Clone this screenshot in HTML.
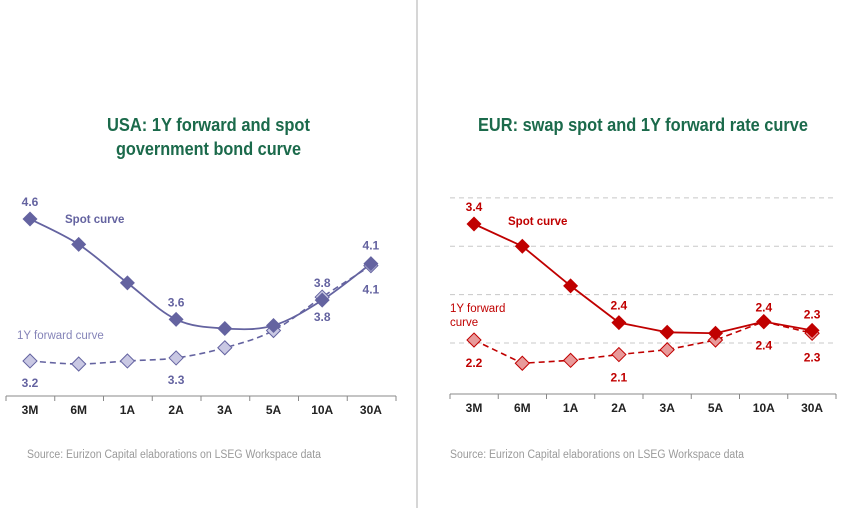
<!DOCTYPE html>
<html><head><meta charset="utf-8"><style>
body{margin:0;background:#fff;}
svg{display:block;font-family:"Liberation Sans",sans-serif;}
</style></head><body>
<svg id="s" width="851" height="508">
<line x1="417" y1="0" x2="417" y2="508" stroke="#c8c8c8" stroke-width="1.5"/>
<text x="107" y="131" textLength="203" lengthAdjust="spacingAndGlyphs" font-size="18" font-weight="bold" fill="#1b6a4b">USA: 1Y forward and spot</text>
<text x="116" y="155" textLength="185" lengthAdjust="spacingAndGlyphs" font-size="18" font-weight="bold" fill="#1b6a4b">government bond curve</text>
<text x="478" y="131" textLength="330" lengthAdjust="spacingAndGlyphs" font-size="18" font-weight="bold" fill="#1b6a4b">EUR: swap spot and 1Y forward rate curve</text>
<text x="27" y="458" textLength="294" lengthAdjust="spacingAndGlyphs" font-size="11.5" fill="#9a9a9a">Source: Eurizon Capital elaborations on LSEG Workspace data</text>
<text x="450" y="458" textLength="294" lengthAdjust="spacingAndGlyphs" font-size="11.5" fill="#9a9a9a">Source: Eurizon Capital elaborations on LSEG Workspace data</text>
</svg>
<script>
const categories=["3M","6M","1A","2A","3A","5A","10A","30A"];
const usaSpot=[4.6,4.35,3.97,3.61,3.52,3.55,3.8,4.16];
const usaFwd=[3.2,3.17,3.2,3.23,3.33,3.5,3.83,4.14];
const eurSpot=[3.4,3.17,2.76,2.38,2.28,2.27,2.39,2.3];
const eurFwd=[2.2,1.96,1.99,2.05,2.1,2.2,2.39,2.27];
const eurGrid=[3.67,3.17,2.67,2.17];
const usaSpotLabels=[["4.6",0,-17],["3.6",3,-17],["4.1",7,-18]];
const usaFwdLabels=[["3.2",0,22],["3.3",3,22],["3.8",6,-14],["3.8",6,20],["4.1",7,24]];
const eurSpotLabels=[["3.4",0,-17],["2.4",3,-17],["2.4",6,-14],["2.3",7,-16]];
const eurFwdLabels=[["2.2",0,23],["2.1",3,23],["2.4",6,24],["2.3",7,24]];
const S=document.getElementById('s'),NS='http://www.w3.org/2000/svg';
function mk(t,a,name){const e=document.createElementNS(NS,t);for(const k in a)e.setAttribute(k,a[k]);


S.appendChild(e);return e;}
function chart(p){
 const x=i=>p.x0+i*p.dx, y=v=>p.yRef+(p.vRef-v)*p.k;
 if(p.grid)p.grid.forEach(g=>mk('line',{x1:p.ax0,x2:p.ax1,y1:y(g),y2:y(g),stroke:'#c8c8c8','stroke-dasharray':'5,4'},p.id+'-gridline'));
 mk('line',{x1:p.ax0,x2:p.ax1,y1:p.axY,y2:p.axY,stroke:'#888'},p.id+'-x-axis');
 for(let i=0;i<=categories.length;i++){const tx=p.ax0+i*(p.ax1-p.ax0)/categories.length;
  mk('line',{x1:tx,x2:tx,y1:p.axY,y2:p.axY+5,stroke:'#888'},p.id+'-x-tick');}
 categories.forEach((c,i)=>{const t=mk('text',{x:x(i),y:p.axY+18,'text-anchor':'middle','font-size':12,'font-weight':'bold',fill:'#222'},p.id+'-x-label');t.textContent=c;});
 const path=(d)=>{
  const P=d.map((v,i)=>[x(i),y(v)]);
  if(!p.smooth)return P.map((q,i)=>(i?'L':'M')+q[0]+','+q[1]).join('');
  let s='M'+P[0][0]+','+P[0][1];
  for(let i=0;i<P.length-1;i++){const a=P[Math.max(0,i-1)],b=P[i],c=P[i+1],e=P[Math.min(P.length-1,i+2)];
   s+=`C${b[0]+(c[0]-a[0])/6},${b[1]+(c[1]-a[1])/6} ${c[0]-(e[0]-b[0])/6},${c[1]-(e[1]-b[1])/6} ${c[0]},${c[1]}`;}
  return s;};
 mk('path',{d:path(p.fwd),fill:'none',stroke:p.c,'stroke-width':1.6,'stroke-dasharray':'6,4'},p.id+'-forward-line');
 mk('path',{d:path(p.spot),fill:'none',stroke:p.c,'stroke-width':1.8},p.id+'-spot-line');
 const dia=(cx,cy,r)=>`M${cx},${cy-r}L${cx+r},${cy}L${cx},${cy+r}L${cx-r},${cy}Z`;
 p.fwd.forEach((v,i)=>mk('path',{d:dia(x(i),y(v),7),fill:p.light,stroke:p.c,'stroke-width':1},p.id+'-forward-point'));
 p.spot.forEach((v,i)=>mk('path',{d:dia(x(i),y(v),7.5),fill:p.c},p.id+'-spot-point'));
 p.sl.forEach(l=>{const t=mk('text',{x:x(l[1]),y:y(p.spot[l[1]])+l[2]+4,'text-anchor':'middle','font-size':12,'font-weight':'bold',fill:p.c},p.id+'-spot-value');t.textContent=l[0];});
 p.fl.forEach(l=>{const t=mk('text',{x:x(l[1]),y:y(p.fwd[l[1]])+l[2]+4,'text-anchor':'middle','font-size':12,'font-weight':'bold',fill:p.c},p.id+'-forward-value');t.textContent=l[0];});
}
chart({id:'usa',smooth:true,x0:30,dx:48.7,yRef:219,vRef:4.6,k:101.4,ax0:6,ax1:396,axY:396,spot:usaSpot,fwd:usaFwd,c:'#6463a0',light:'#c9c8e3',sl:usaSpotLabels,fl:usaFwdLabels});
chart({id:'eur',smooth:false,x0:474,dx:48.3,yRef:224,vRef:3.4,k:96.7,ax0:450,ax1:836,axY:394,spot:eurSpot,fwd:eurFwd,grid:eurGrid,c:'#c00000',light:'#e89a9a',sl:eurSpotLabels,fl:eurFwdLabels});
let t;
t=mk('text',{x:65,y:223,'font-size':11.5,'font-weight':'bold',fill:'#6463a0'},'usa-spot-legend');t.textContent='Spot curve';
t=mk('text',{x:17,y:339,'font-size':11.5,fill:'#8584b8'},'usa-forward-legend');t.textContent='1Y forward curve';
t=mk('text',{x:508,y:225,'font-size':11.5,'font-weight':'bold',fill:'#c00000'},'eur-spot-legend');t.textContent='Spot curve';
t=mk('text',{x:450,y:312,'font-size':11.5,fill:'#c00000'},'eur-forward-legend-1');t.textContent='1Y forward';
t=mk('text',{x:450,y:326,'font-size':11.5,fill:'#c00000'},'eur-forward-legend-2');t.textContent='curve';
</script>
</body></html>
